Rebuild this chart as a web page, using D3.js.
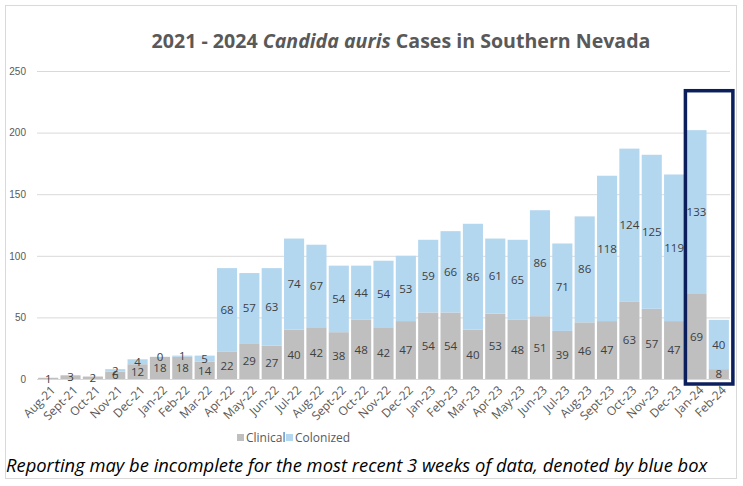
<!DOCTYPE html>
<html>
<head>
<meta charset="utf-8">
<script src="https://cdn.jsdelivr.net/npm/d3@7"></script>
<style>
  body { margin: 0; background: #fff; }
  svg { display: block; font-family: "Open Sans", sans-serif; }
</style>
</head>
<body>
<div id="chart"></div>
<script>
// months shown on the x axis
var months = ['Aug-21', 'Sept-21', 'Oct-21', 'Nov-21', 'Dec-21', 'Jan-22', 'Feb-22',
	'Mar-22', 'Apr-22', 'May-22', 'Jun-22', 'Jul-22', 'Aug-22', 'Sept-22', 'Oct-22',
	'Nov-22', 'Dec-22', 'Jan-23', 'Feb-23', 'Mar-23', 'Apr-23', 'May-23', 'Jun-23',
	'Jul-23', 'Aug-23', 'Sept-23', 'Oct-23', 'Nov-23', 'Dec-23', 'Jan-24', 'Feb-24'];
var clinical = [1, 3, 2, 6, 12, 18, 18, 14, 22, 29, 27, 40, 42, 38, 48, 42, 47, 54, 54,
	40, 53, 48, 51, 39, 46, 47, 63, 57, 47, 69, 8];
var colonized = [null, null, null, 2, 4, 0, 1, 5, 68, 57, 63, 74, 67, 54, 44, 54, 53, 59,
	66, 86, 61, 65, 86, 71, 86, 118, 124, 125, 119, 133, 40];
var yTicks = [0, 50, 100, 150, 200, 250];
var incompleteMonths = ['Jan-24', 'Feb-24'];

var W = 743, H = 486;
var colors = {Clinical: '#bfbfbf', Colonized: '#b4d7f0'};

var svg = d3.select('#chart').append('svg')
	.attr('width', W)
	.attr('height', H);

// outer frame
svg.append('rect')
	.attr('x', 5.5).attr('y', 5.5)
	.attr('width', 731).attr('height', 473)
	.attr('fill', 'none')
	.attr('stroke', '#d9d9d9');

var x = d3.scaleBand()
	.domain(months)
	.range([37, 730])
	.paddingInner(0.1)
	.paddingOuter(0.05);
var y = d3.scaleLinear()
	.domain([0, 250])
	.range([379, 71]);

// gridlines + y labels
var yAxis = svg.append('g')
	.attr('transform', 'translate(37,0)')
	.call(d3.axisLeft(y).tickValues(yTicks).tickSize(-693).tickPadding(11));
yAxis.select('.domain').remove();
yAxis.selectAll('line').attr('stroke', '#d9d9d9');
yAxis.selectAll('text')
	.style('font-size', '10px')
	.style('fill', '#595959');

var rows = months.map(function(m, i) {
	return {month: m, clinical: clinical[i], colonized: colonized[i]};
});

var g = svg.append('g');
rows.forEach(function(d) {
	var c = d.clinical, o = d.colonized || 0;
	g.append('rect')
		.attr('x', x(d.month))
		.attr('width', x.bandwidth())
		.attr('y', y(c))
		.attr('height', y(0) - y(c))
		.attr('fill', colors.Clinical);
	if (d.colonized !== null) {
		g.append('rect')
			.attr('x', x(d.month))
			.attr('width', x.bandwidth())
			.attr('y', y(c + o))
			.attr('height', y(c) - y(c + o))
			.attr('fill', colors.Colonized);
	}
});

// value labels at segment middles
var labels = svg.append('g')
	.style('font-size', '11.5px')
	.style('fill', '#404040')
	.attr('text-anchor', 'middle');
rows.forEach(function(d) {
	var cx = x(d.month) + x.bandwidth() / 2;
	labels.append('text')
		.attr('x', cx)
		.attr('y', y(d.clinical / 2))
		.attr('dy', '0.36em')
		.text(d.clinical);
	if (d.colonized !== null) {
		labels.append('text')
			.attr('x', cx)
			.attr('y', y(d.clinical + d.colonized / 2))
			.attr('dy', '0.36em')
			.text(d.colonized);
	}
});

// x axis labels, rotated
var xl = svg.append('g')
	.style('font-size', '12px')
	.style('fill', '#595959');
months.forEach(function(m) {
	var cx = x(m) + x.bandwidth() / 2;
	xl.append('text')
		.attr('text-anchor', 'end')
		.attr('transform', 'translate(' + (cx + 5) + ',388) rotate(-45)')
		.attr('dy', '0.35em')
		.text(m);
});

// blue box around incomplete months
var bx0 = x(incompleteMonths[0]) - 1;
var bx1 = x(incompleteMonths[1]) + x.bandwidth() + 4;
svg.append('rect')
	.attr('x', bx0)
	.attr('y', y(234))
	.attr('width', bx1 - bx0)
	.attr('height', y(0) + 5 - y(234))
	.attr('fill', 'none')
	.attr('stroke', '#0b1f5c')
	.attr('stroke-width', 3.5);

// title
var title = svg.append('text')
	.attr('x', 401)
	.attr('y', 48)
	.attr('text-anchor', 'middle')
	.style('font-size', '17px')
	.style('font-weight', 'bold')
	.style('fill', '#595959');
title.append('tspan').text('2021 - 2024 ');
title.append('tspan').style('font-style', 'italic').text('Candida auris');
title.append('tspan').text(' Cases in Southern Nevada');
var tw = title.node().getComputedTextLength();
title.style('font-size', (17 * 499 / tw) + 'px');

// legend
var legend = svg.append('g')
	.style('font-size', '12px')
	.style('fill', '#595959');
[['Clinical', 237], ['Colonized', 286]].forEach(function(l) {
	legend.append('rect')
		.attr('x', l[1]).attr('y', 434)
		.attr('width', 7).attr('height', 7)
		.attr('fill', colors[l[0]]);
	legend.append('text')
		.attr('x', l[1] + 9)
		.attr('y', 442)
		.text(l[0]);
});

// footnote
var note = svg.append('text')
	.attr('x', 6)
	.attr('y', 472)
	.style('font-size', '16px')
	.style('font-style', 'italic')
	.style('fill', '#000')
	.text('Reporting may be incomplete for the most recent 3 weeks of data, denoted by blue box');
var nw = note.node().getComputedTextLength();
note.style('font-size', (16 * 702 / nw) + 'px');
</script>
</body>
</html>
